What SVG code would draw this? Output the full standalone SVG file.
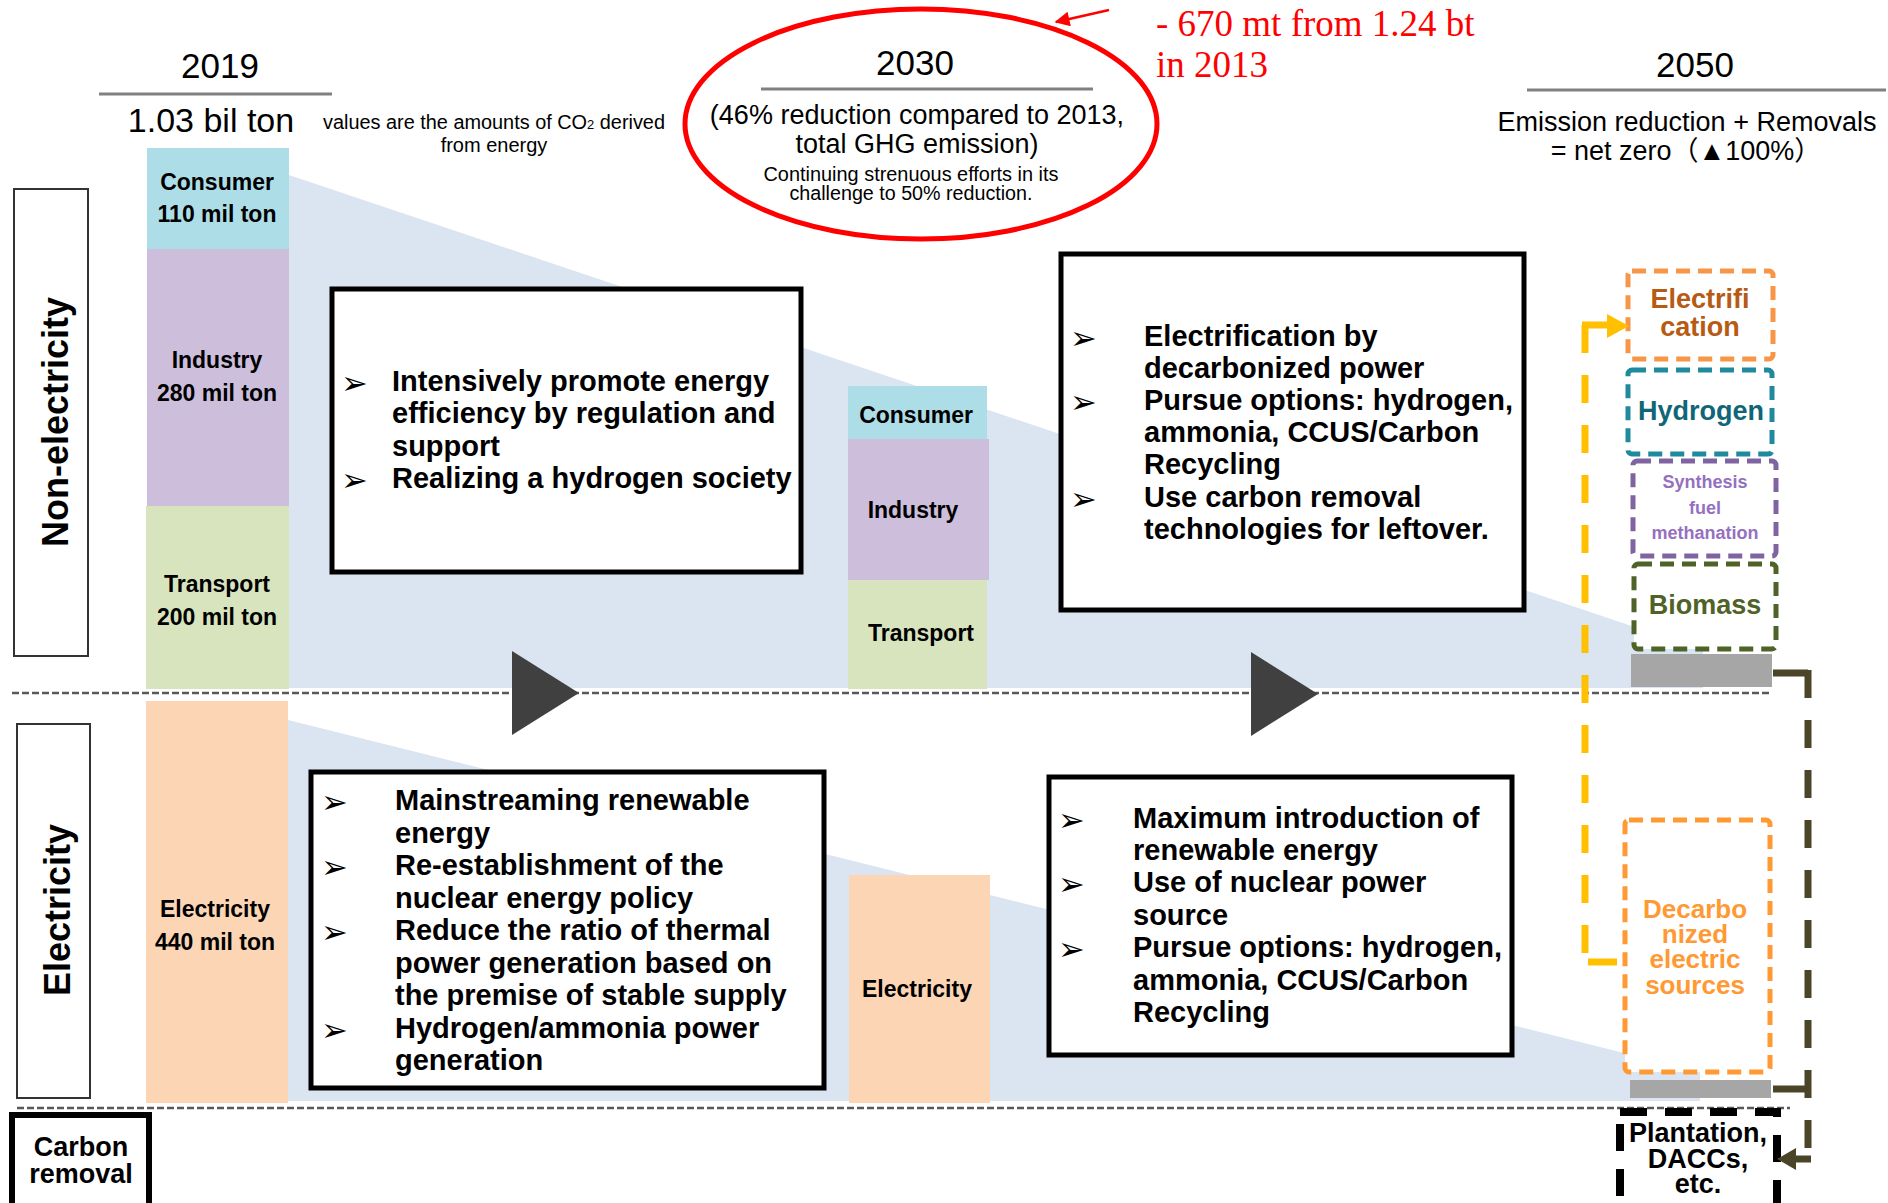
<svg xmlns="http://www.w3.org/2000/svg" width="1888" height="1203" viewBox="0 0 1888 1203">
  <style>
    text { font-family: "Liberation Sans", Arial, sans-serif; fill: #000; }
    .hdr { font-size: 35px; text-anchor: middle; }
    .sub { font-size: 27px; text-anchor: middle; }
    .note { font-size: 20px; text-anchor: middle; }
    .lst { font-size: 29px; font-weight: bold; }
    .bul { font-family: "DejaVu Sans", sans-serif; font-size: 32px; }
    .bar { font-size: 23px; font-weight: bold; text-anchor: middle; }
    .side { font-size: 36px; font-weight: bold; text-anchor: middle; }
    .cb { font-size: 27px; font-weight: bold; text-anchor: middle; }
    .dc { font-size: 26px; font-weight: bold; text-anchor: middle; fill: #FF9933; }
    .rule { stroke: #808080; stroke-width: 3; }
    .tbox { fill: #fff; stroke: #000; stroke-width: 5; }
    .lbox { fill: #fff; stroke: #333; stroke-width: 2; }
    .sep { stroke: #595959; stroke-width: 2.5; stroke-dasharray: 7 3; fill: none; }
    .dbox { fill: #fff; stroke-width: 5; stroke-dasharray: 14 8; }
    .red { font-family: "Liberation Serif", "Times New Roman", serif; font-size: 37px; fill: #FF0000; }
    .slope { fill: #DAE5F1; }
  </style>
  <defs>
    <marker id="redHead" viewBox="0 0 10 10" refX="9" refY="5" markerWidth="7" markerHeight="6" orient="auto" markerUnits="strokeWidth">
      <path d="M0,0 L10,5 L0,10 Z" fill="#FF0000"/>
    </marker>
  </defs>

  <rect x="0" y="0" width="1888" height="1203" fill="#fff"/>

  <!-- reduction wedges -->
  <polygon class="slope" points="289,175 1703,650 1703,688 289,688"/>
  <polygon class="slope" points="288,720 1700,1072 1700,1101 288,1101"/>

  <!-- section separators -->
  <line class="sep" x1="12" y1="693" x2="1772" y2="693"/>
  <line class="sep" x1="17" y1="1108" x2="1790" y2="1108"/>

  <!-- year headings -->
  <g id="head-2019">
    <text class="hdr" x="220" y="78">2019</text>
    <line class="rule" x1="99" y1="94" x2="332" y2="94"/>
    <text x="211" y="132" font-size="34" text-anchor="middle">1.03 bil ton</text>
    <text x="323" y="129" font-size="20" textLength="342" lengthAdjust="spacingAndGlyphs">values are the amounts of CO<tspan font-size="13">2</tspan> derived</text>
    <text class="note" x="494" y="152">from energy</text>
  </g>

  <g id="head-2030">
    <text class="hdr" x="915" y="75">2030</text>
    <line class="rule" x1="761" y1="89" x2="1093" y2="89"/>
    <text class="sub" x="917" y="124">(46% reduction compared to 2013,</text>
    <text class="sub" x="917" y="153">total GHG emission)</text>
    <text class="note" x="911" y="181" textLength="295" lengthAdjust="spacingAndGlyphs">Continuing strenuous efforts in its</text>
    <text class="note" x="911" y="200" textLength="243" lengthAdjust="spacingAndGlyphs">challenge to 50% reduction.</text>
  </g>

  <g id="head-2050">
    <text class="hdr" x="1695" y="77">2050</text>
    <line class="rule" x1="1527" y1="90" x2="1886" y2="90"/>
    <text class="sub" x="1687" y="131">Emission reduction + Removals</text>
    <text class="sub" x="1686" y="160" style="font-family: 'Liberation Sans', 'Noto Sans CJK JP', sans-serif">= net zero（▲100%）</text>
  </g>

  <!-- annotation -->
  <g id="annotation">
    <ellipse cx="921" cy="124" rx="236" ry="115" fill="none" stroke="#FF0000" stroke-width="5"/>
    <text class="red" x="1156" y="36">- 670 mt from 1.24 bt</text>
    <text class="red" x="1156" y="77">in 2013</text>
  </g>

  <!-- side labels -->
  <g id="label-non-electricity">
    <rect class="lbox" x="14" y="189" width="74" height="467"/>
    <text class="side" transform="translate(68,422) rotate(-90)" textLength="250" lengthAdjust="spacingAndGlyphs">Non-electricity</text>
  </g>
  <g id="label-electricity">
    <rect class="lbox" x="17" y="724" width="73" height="374"/>
    <text class="side" transform="translate(70,910) rotate(-90)" textLength="172" lengthAdjust="spacingAndGlyphs">Electricity</text>
  </g>
  <g id="label-carbon-removal">
    <rect x="12" y="1115" width="137" height="100" fill="#fff" stroke="#000" stroke-width="6"/>
    <text class="cb" x="81" y="1156">Carbon</text>
    <text class="cb" x="81" y="1183">removal</text>
  </g>

  <!-- 2019 emissions -->
  <g id="bar-2019-consumer">
    <rect x="147" y="148" width="142" height="101" fill="#ADDEE8"/>
    <text class="bar" x="217" y="190">Consumer</text>
    <text class="bar" x="217" y="222">110 mil ton</text>
  </g>
  <g id="bar-2019-industry">
    <rect x="147" y="249" width="142" height="257" fill="#CDBEDC"/>
    <text class="bar" x="217" y="368">Industry</text>
    <text class="bar" x="217" y="401">280 mil ton</text>
  </g>
  <g id="bar-2019-transport">
    <rect x="146" y="506" width="143" height="183" fill="#D7E4BD"/>
    <text class="bar" x="217" y="592">Transport</text>
    <text class="bar" x="217" y="625">200 mil ton</text>
  </g>
  <g id="bar-2019-electricity">
    <rect x="146" y="701" width="142" height="402" fill="#FCD5B4"/>
    <text class="bar" x="215" y="917">Electricity</text>
    <text class="bar" x="215" y="950">440 mil ton</text>
  </g>

  <!-- 2030 emissions -->
  <g id="bar-2030-consumer">
    <rect x="848" y="386" width="139" height="53" fill="#ADDEE8"/>
    <text class="bar" x="916" y="423">Consumer</text>
  </g>
  <g id="bar-2030-industry">
    <rect x="848" y="439" width="141" height="141" fill="#CDBEDC"/>
    <text class="bar" x="913" y="518">Industry</text>
  </g>
  <g id="bar-2030-transport">
    <rect x="848" y="580" width="139" height="109" fill="#D7E4BD"/>
    <text class="bar" x="921" y="641">Transport</text>
  </g>
  <g id="bar-2030-electricity">
    <rect x="849" y="875" width="141" height="228" fill="#FCD5B4"/>
    <text class="bar" x="917" y="997">Electricity</text>
  </g>

  <!-- policy boxes -->
  <g id="policy-nonelec-2030">
    <rect class="tbox" x="332" y="289" width="469" height="283"/>
    <text class="bul" x="341" y="394">➢</text>
    <text class="bul" x="341" y="491">➢</text>
    <text class="lst" x="392" y="391">Intensively promote energy</text>
    <text class="lst" x="392" y="423">efficiency by regulation and</text>
    <text class="lst" x="392" y="456">support</text>
    <text class="lst" x="392" y="488">Realizing a hydrogen society</text>
  </g>

  <g id="policy-nonelec-2050">
    <rect class="tbox" x="1061" y="254" width="463" height="356"/>
    <text class="bul" x="1070" y="349">➢</text>
    <text class="bul" x="1070" y="413">➢</text>
    <text class="bul" x="1070" y="510">➢</text>
    <text class="lst" x="1144" y="346">Electrification by</text>
    <text class="lst" x="1144" y="378">decarbonized power</text>
    <text class="lst" x="1144" y="410">Pursue options: hydrogen,</text>
    <text class="lst" x="1144" y="442">ammonia, CCUS/Carbon</text>
    <text class="lst" x="1144" y="474">Recycling</text>
    <text class="lst" x="1144" y="507">Use carbon removal</text>
    <text class="lst" x="1144" y="539">technologies for leftover.</text>
  </g>

  <g id="policy-elec-2030">
    <rect class="tbox" x="311" y="772" width="513" height="316"/>
    <text class="bul" x="321" y="813">➢</text>
    <text class="bul" x="321" y="878">➢</text>
    <text class="bul" x="321" y="943">➢</text>
    <text class="bul" x="321" y="1041">➢</text>
    <text class="lst" x="395" y="810">Mainstreaming renewable</text>
    <text class="lst" x="395" y="843">energy</text>
    <text class="lst" x="395" y="875">Re-establishment of the</text>
    <text class="lst" x="395" y="908">nuclear energy policy</text>
    <text class="lst" x="395" y="940">Reduce the ratio of thermal</text>
    <text class="lst" x="395" y="973">power generation based on</text>
    <text class="lst" x="395" y="1005">the premise of stable supply</text>
    <text class="lst" x="395" y="1038">Hydrogen/ammonia power</text>
    <text class="lst" x="395" y="1070">generation</text>
  </g>

  <g id="policy-elec-2050">
    <rect class="tbox" x="1049" y="777" width="463" height="278"/>
    <text class="bul" x="1058" y="831">➢</text>
    <text class="bul" x="1058" y="895">➢</text>
    <text class="bul" x="1058" y="960">➢</text>
    <text class="lst" x="1133" y="828">Maximum introduction of</text>
    <text class="lst" x="1133" y="860">renewable energy</text>
    <text class="lst" x="1133" y="892">Use of nuclear power</text>
    <text class="lst" x="1133" y="925">source</text>
    <text class="lst" x="1133" y="957">Pursue options: hydrogen,</text>
    <text class="lst" x="1133" y="990">ammonia, CCUS/Carbon</text>
    <text class="lst" x="1133" y="1022">Recycling</text>
  </g>

  <!-- 2050 measures -->
  <g id="m-electrification">
    <rect class="dbox" x="1628" y="271" width="145" height="88" rx="4" stroke="#F79646"/>
    <text class="cb" x="1700" y="308" style="fill:#B65A14">Electrifi</text>
    <text class="cb" x="1700" y="336" style="fill:#B65A14">cation</text>
  </g>
  <g id="m-hydrogen">
    <rect class="dbox" x="1628" y="370" width="144" height="84" rx="4" stroke="#1F8A9E"/>
    <text x="1701" y="420" font-size="27" font-weight="bold" text-anchor="middle" style="fill:#0F6676">Hydrogen</text>
  </g>
  <g id="m-synthesis">
    <rect class="dbox" x="1633" y="461" width="143" height="95" rx="4" stroke="#8064A2"/>
    <text x="1705" y="488" font-size="18" font-weight="bold" text-anchor="middle" style="fill:#9570C0">Synthesis</text>
    <text x="1705" y="514" font-size="18" font-weight="bold" text-anchor="middle" style="fill:#9570C0">fuel</text>
    <text x="1705" y="539" font-size="18" font-weight="bold" text-anchor="middle" style="fill:#9570C0">methanation</text>
  </g>
  <g id="m-biomass">
    <rect class="dbox" x="1634" y="564" width="142" height="85" rx="4" stroke="#4F6228"/>
    <text x="1705" y="614" font-size="27" font-weight="bold" text-anchor="middle" style="fill:#4F6228">Biomass</text>
  </g>
  <g id="residual-nonelec">
    <rect x="1631" y="654" width="141" height="33" fill="#A6A6A6"/>
  </g>
  <g id="m-decarbonized">
    <rect class="dbox" x="1625" y="820" width="145" height="252" rx="4" stroke="#FF9933"/>
    <text class="dc" x="1695" y="918">Decarbo</text>
    <text class="dc" x="1695" y="943">nized</text>
    <text class="dc" x="1695" y="968">electric</text>
    <text class="dc" x="1695" y="994">sources</text>
  </g>
  <g id="residual-elec">
    <rect x="1630" y="1080" width="141" height="18" fill="#A6A6A6"/>
  </g>
  <g id="m-removal">
    <rect x="1620" y="1112" width="157" height="110" fill="#fff" stroke="#000" stroke-width="8" stroke-dasharray="27 18"/>
    <text class="cb" x="1698" y="1142">Plantation,</text>
    <text class="cb" x="1698" y="1168">DACCs,</text>
    <text class="cb" x="1698" y="1193">etc.</text>
  </g>

  <!-- connectors -->
  <g id="connectors">
    <!-- progression arrows -->
    <polygon points="512,651 512,735 579,693" fill="#404040"/>
    <polygon points="1251,652 1251,736 1318,694" fill="#404040"/>
    <!-- annotation pointer -->
    <line x1="1109" y1="10" x2="1056" y2="22" stroke="#FF0000" stroke-width="2.5" marker-end="url(#redHead)"/>
    <!-- decarbonized power feeding electrification -->
    <path d="M1585,325 V957" fill="none" stroke="#FFC000" stroke-width="7" stroke-dasharray="28 22"/>
    <path d="M1582,325 H1610" fill="none" stroke="#FFC000" stroke-width="7"/>
    <polygon points="1607,314 1629,326 1607,338" fill="#FFC000"/>
    <path d="M1588,962 H1617" fill="none" stroke="#FFC000" stroke-width="7"/>
    <!-- residual emissions to removals -->
    <path d="M1773,673 H1808" fill="none" stroke="#4A4428" stroke-width="7"/>
    <path d="M1773,1089 H1805" fill="none" stroke="#4A4428" stroke-width="7"/>
    <path d="M1808,670 V1152" fill="none" stroke="#4A4428" stroke-width="7" stroke-dasharray="28 22"/>
    <path d="M1811,1159 H1794" fill="none" stroke="#4A4428" stroke-width="7"/>
    <polygon points="1796,1148 1777,1159 1796,1170" fill="#4A4428"/>
  </g>
</svg>
